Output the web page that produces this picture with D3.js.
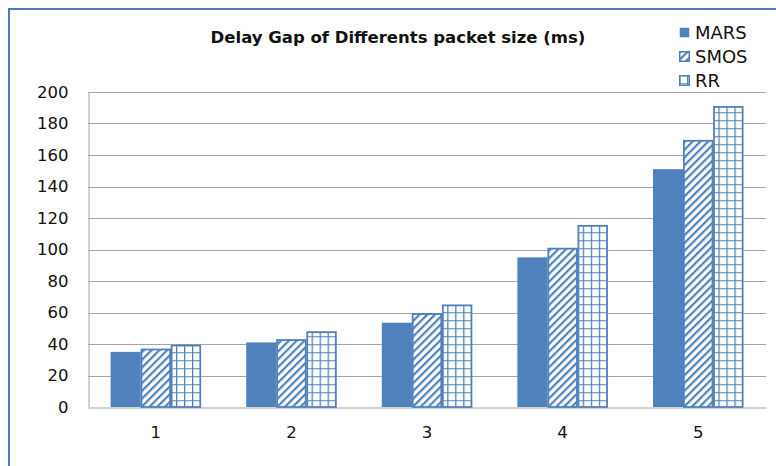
<!DOCTYPE html>
<html>
<head>
<meta charset="utf-8">
<script src="https://cdn.jsdelivr.net/npm/d3@7"></script>
<style>
  html, body { margin: 0; padding: 0; background: #fff; }
  svg { display: block; }
  text { font-family: "DejaVu Sans", "Liberation Sans", sans-serif; fill: #111; }
</style>
</head>
<body>
<svg id="chart" width="776" height="466"></svg>
<script>
// Packet size groups
const categories = ["1", "2", "3", "4", "5"];
const seriesNames = ["MARS", "SMOS", "RR"];
// Delay gap per scheme (ms)
const marsValues = [35, 41, 53.5, 95, 151];
const smosValues = [37, 43, 59.5, 101, 169.5];
const rrValues = [39.5, 48, 65, 115.5, 191];
const yTicks = [0, 20, 40, 60, 80, 100, 120, 140, 160, 180, 200];
const chartTitle = "Delay Gap of Differents packet size (ms)";

const seriesValues = { MARS: marsValues, SMOS: smosValues, RR: rrValues };
const blue = "#4f81bd";

const svg = d3.select("#chart");

// Outer frame
svg.append("rect")
  .attr("x", 9).attr("y", 9)
  .attr("width", 800).attr("height", 500)
  .attr("fill", "#fff")
  .attr("stroke", "#4a7ebb").attr("stroke-width", 2);

// Fill patterns
const defs = svg.append("defs");
const hatch = defs.append("pattern")
  .attr("id", "hatch").attr("patternUnits", "userSpaceOnUse")
  .attr("width", 5.5).attr("height", 5.5)
  .attr("patternTransform", "rotate(45)");
hatch.append("rect").attr("width", 5.5).attr("height", 5.5).attr("fill", "#fff");
hatch.append("rect").attr("x", 0).attr("width", 2.2).attr("height", 5.5).attr("fill", blue);

const grid = defs.append("pattern")
  .attr("id", "gridfill").attr("patternUnits", "userSpaceOnUse")
  .attr("width", 8).attr("height", 8);
grid.append("rect").attr("width", 8).attr("height", 8).attr("fill", "#fff");
grid.append("rect").attr("x", 0).attr("y", 0).attr("width", 1.3).attr("height", 8).attr("fill", blue);
grid.append("rect").attr("x", 0).attr("y", 0).attr("width", 8).attr("height", 1.3).attr("fill", blue).attr("opacity", 0.75);

const fills = { MARS: blue, SMOS: "url(#hatch)", RR: "url(#gridfill)" };

// Scales
const plotLeft = 88, plotRight = 766, plotTop = 92, plotBottom = 407;
const x = d3.scaleBand().domain(categories).range([plotLeft, plotRight]);
const xs = d3.scaleBand().domain(seriesNames).range([0, x.bandwidth()])
  .paddingOuter(0.75).paddingInner(0);
const y = d3.scaleLinear().domain([0, 200]).range([plotBottom, plotTop]);

// Gridlines
svg.append("g").selectAll("line").data(yTicks.filter(d => d > 0)).join("line")
  .attr("x1", plotLeft).attr("x2", plotRight)
  .attr("y1", d => Math.round(y(d)) + 0.5).attr("y2", d => Math.round(y(d)) + 0.5)
  .attr("stroke", "#a6a6a6").attr("stroke-width", 1);

// Y axis (labels only, with vertical line)
const yAxis = svg.append("g")
  .attr("transform", `translate(${plotLeft + 0.5},0)`)
  .call(d3.axisLeft(y).tickValues(yTicks).tickSize(0).tickPadding(20));
yAxis.select(".domain").attr("stroke", "#a6a6a6");
yAxis.selectAll("text").attr("font-size", 16.5).attr("fill", "#111")
  .style("font-family", "DejaVu Sans, sans-serif");

// X axis
const xAxis = svg.append("g")
  .attr("transform", `translate(0,${Math.round(plotBottom) + 0.5})`)
  .call(d3.axisBottom(x).tickSize(0).tickPadding(19));
xAxis.select(".domain").attr("stroke", "#a6a6a6");
xAxis.selectAll("text").attr("font-size", 16.5).attr("fill", "#111")
  .style("font-family", "DejaVu Sans, sans-serif");

// Bars
const rows = categories.map((c, i) => ({ c, vals: seriesNames.map(s => ({ s, v: seriesValues[s][i] })) }));
const groups = svg.append("g").selectAll("g").data(rows).join("g")
  .attr("transform", d => `translate(${x(d.c)},0)`);
groups.selectAll("rect").data(d => d.vals).join("rect")
  .attr("x", d => xs(d.s) + (d.s === "MARS" ? 0 : 0.75))
  .attr("y", d => y(d.v) + (d.s === "MARS" ? 0 : 0.75))
  .attr("width", d => xs.bandwidth() - (d.s === "MARS" ? 0 : 1.5))
  .attr("height", d => y(0) - y(d.v) - (d.s === "MARS" ? 0 : 0.75))
  .attr("fill", d => fills[d.s])
  .attr("stroke", d => d.s === "MARS" ? "none" : blue)
  .attr("stroke-width", 1.8);

// Title
svg.append("text")
  .attr("x", 398).attr("y", 43)
  .attr("text-anchor", "middle")
  .attr("font-size", 16.5).attr("font-weight", "bold")
  .text(chartTitle);

// Legend
const legend = svg.append("g").attr("transform", "translate(679,27)");
const items = legend.selectAll("g").data(seriesNames).join("g")
  .attr("transform", (d, i) => `translate(0,${i * 24})`);
items.append("rect")
  .attr("x", 0.75).attr("y", 0.75).attr("width", 9.5).attr("height", 9.5)
  .attr("fill", d => fills[d]).attr("stroke", d => d === "MARS" ? "none" : blue)
  .attr("stroke-width", 1.5);
items.append("text")
  .attr("x", 16).attr("y", 11.5)
  .attr("font-size", 18)
  .text(d => d);
</script>
</body>
</html>
